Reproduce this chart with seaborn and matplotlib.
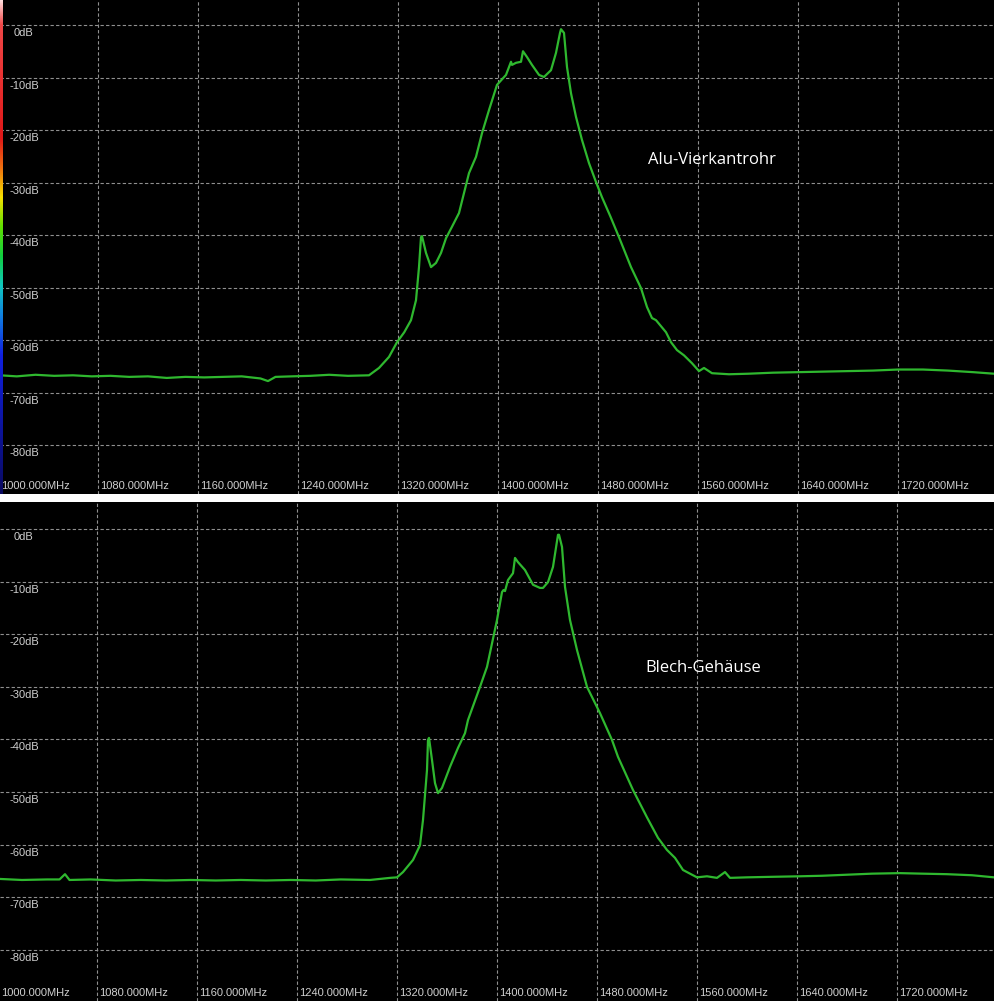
import numpy as np
import pandas as pd
import matplotlib
matplotlib.use("Agg")
import matplotlib.pyplot as plt
from matplotlib.colors import LinearSegmentedColormap
import seaborn as sns

# ---------------- data ----------------
freq_ticks = [1000, 1080, 1160, 1240, 1320, 1400, 1480, 1560, 1640, 1720]
freq_labels = [f"{f}.000MHz" for f in freq_ticks]
db_ticks = [0, -10, -20, -30, -40, -50, -60, -70, -80]
db_labels = [f"{d}dB" for d in db_ticks]

top_freq = [1001.6, 1015, 1030, 1045, 1060, 1075, 1090, 1105, 1120, 1135, 1150,
            1165, 1180, 1195, 1210, 1216, 1222, 1235, 1250, 1265, 1280, 1296.8,
            1304.8, 1312.8, 1319.2, 1325, 1330.4, 1334.4, 1336.8, 1338.4, 1339.2,
            1342.4, 1346.4, 1350.4, 1354.4, 1358.4, 1363, 1368.8, 1376.8, 1382.4,
            1387.2, 1392.8, 1399.2, 1406.4, 1410.4, 1411.2, 1414.4, 1418.4, 1420,
            1423.2, 1427.2, 1432.8, 1436.8, 1442.4, 1446.4, 1449.6, 1450.4, 1452.8,
            1455.2, 1458.4, 1462.4, 1467.2, 1472.8, 1478.4, 1483.2, 1490, 1496.8,
            1506.4, 1514.4, 1519.2, 1523.2, 1526.4, 1534.4, 1538.4, 1543.2, 1548.8,
            1555.2, 1560.8, 1564.8, 1571.2, 1584.8, 1600, 1620, 1640, 1660, 1680,
            1700, 1720, 1740, 1760, 1780, 1797]
top_db = [-66.7, -66.9, -66.6, -66.8, -66.7, -66.9, -66.8, -67.0, -66.9, -67.2, -67.0,
          -67.1, -67.0, -66.9, -67.3, -67.8, -67.0, -66.9, -66.8, -66.6, -66.8, -66.7,
          -65.3, -63.2, -60.4, -58.5, -56.2, -52.4, -46.1, -40.4, -40.2,
          -43.4, -46.1, -45.3, -43.4, -40.6, -38.5, -35.8, -28.2, -25.1,
          -20.6, -16.2, -11.4, -9.5, -7.0, -7.6, -7.2, -7.0, -5.0,
          -6.1, -7.6, -9.5, -9.9, -8.6, -5.3, -1.5, -0.8, -1.5,
          -8.0, -13.0, -17.5, -21.9, -26.3, -29.9, -32.8, -36.5, -40.4,
          -46.1, -50.1, -53.7, -55.8, -56.2, -58.5, -60.4, -61.9, -62.9,
          -64.4, -65.9, -65.3, -66.3, -66.5, -66.4, -66.2, -66.1, -66.0, -65.9,
          -65.8, -65.6, -65.6, -65.8, -66.1, -66.4]

bot_freq = [1002, 1020, 1040, 1050, 1054.4, 1058, 1075, 1095, 1115, 1135, 1155,
            1175, 1195, 1215, 1235, 1255, 1275, 1298.4, 1314.4, 1320, 1324.8,
            1332.8, 1338.4, 1340.8, 1344, 1344.8, 1345.6, 1348, 1350.4, 1352.8,
            1356, 1362.4, 1368.8, 1374.4, 1376.8, 1386.4, 1392, 1400, 1404, 1405.2,
            1406.4, 1408.8, 1412.8, 1414.4, 1416.8, 1422.4, 1428.8, 1434.4, 1436.8,
            1440.8, 1444.8, 1448.8, 1449.6, 1452, 1454.4, 1458.4, 1464, 1472, 1482.4,
            1492, 1496.8, 1508.8, 1520, 1528.8, 1536, 1542.4, 1548.8, 1560, 1568,
            1576, 1582.4, 1586.4, 1600, 1620, 1642.4, 1660, 1680, 1700, 1722.4,
            1740, 1760, 1780, 1797.6]
bot_db = [-66.5, -66.7, -66.6, -66.6, -65.6, -66.7, -66.6, -66.8, -66.7, -66.8, -66.7,
          -66.8, -66.7, -66.8, -66.7, -66.8, -66.6, -66.7, -66.3, -66.2, -65.2,
          -62.9, -60.1, -55.3, -45.8, -40.1, -39.7, -43.9, -48.3, -50.2,
          -49.2, -45.2, -41.6, -38.8, -36.3, -30.0, -26.2, -17.3, -12.0, -11.6,
          -11.8, -9.7, -8.4, -5.5, -6.3, -7.8, -10.6, -11.2, -11.2,
          -10.1, -7.2, -1.1, -1.1, -3.4, -11.0, -17.3, -23.0, -30.0, -35.0,
          -40.1, -43.3, -49.6, -54.8, -58.7, -61.0, -62.5, -64.8, -66.2, -66.0,
          -66.3, -65.2, -66.3, -66.2, -66.1, -66.0, -65.9, -65.7, -65.5, -65.4,
          -65.5, -65.6, -65.8, -66.2]

panels = [
    dict(freq=top_freq, db=top_db, title="Alu-Vierkantrohr", tx=1520, ty=-25.7,
         ylim=(-89.3, 4.76), xlim=(1001.6, 1796.8), strip=True),
    dict(freq=bot_freq, db=bot_db, title="Blech-Gehäuse", tx=1518.4, ty=-26.4,
         ylim=(-89.7, 5.13), xlim=(1002.4, 1797.6), strip=False),
]

# ---------------- style ----------------
sns.set_style("dark")
plt.rcParams["font.family"] = ["Liberation Sans", "DejaVu Sans"]

W, H = 994, 1001
fig = plt.figure(figsize=(W / 100, H / 100), dpi=100, facecolor="white")

rects = [
    [0, (H - 494) / H, 1, 494 / H],
    [0, 0, 1, 499 / H],
]

line_color = "#2fb82f"
grid_color = "#8f8f8f"
label_color = "#cfcfcf"

strip_cmap = LinearSegmentedColormap.from_list(
    "spec",
    [(0.00, "#ffe0e0"), (0.05, "#f04848"), (0.28, "#e01818"), (0.34, "#f07010"),
     (0.40, "#f8e000"), (0.46, "#60e000"), (0.52, "#10d040"), (0.58, "#10c8c0"),
     (0.64, "#1080e0"), (0.72, "#1020e0"), (1.00, "#0a0a60")])

for rect, p in zip(rects, panels):
    ax = fig.add_axes(rect)
    ax.set_facecolor("black")
    df = pd.DataFrame({"MHz": p["freq"], "dB": p["db"]})
    sns.lineplot(data=df, x="MHz", y="dB", ax=ax, color=line_color,
                 linewidth=1.6, estimator=None, sort=False)
    ax.set_xlim(*p["xlim"])
    ax.set_ylim(*p["ylim"])
    ax.set_xticks(freq_ticks[1:])
    ax.set_yticks(db_ticks)
    ax.grid(True, color=grid_color, linestyle=(0, (3, 2)), linewidth=0.8)
    ax.tick_params(left=False, bottom=False, labelleft=False, labelbottom=False)
    ax.set_xlabel("")
    ax.set_ylabel("")
    for s in ax.spines.values():
        s.set_visible(False)

    trans_y = ax.get_yaxis_transform()  # x axes-fraction, y data
    for d, lab in zip(db_ticks, db_labels):
        ax.annotate(lab, xy=(24 / W, d), xycoords=trans_y, xytext=(0, -3),
                    textcoords="offset pixels", ha="center", va="top",
                    fontsize=8, color=label_color)
    trans_x = ax.get_xaxis_transform()  # x data, y axes-fraction
    for f, lab in zip(freq_ticks, freq_labels):
        ax.annotate(lab, xy=(max(f, p["xlim"][0]), 0), xycoords=trans_x,
                    xytext=(2 if f > 1000 else 1, 8), textcoords="offset pixels",
                    ha="left", va="center", fontsize=8, color=label_color)

    ax.text(p["tx"], p["ty"], p["title"], color="white", fontsize=12,
            family=["Open Sans", "DejaVu Sans"], ha="left", va="center")

    if p["strip"]:
        sax = fig.add_axes([0, rect[1], 3 / W, rect[3]])
        grad = np.linspace(0, 1, 256).reshape(-1, 1)
        sax.imshow(grad, aspect="auto", cmap=strip_cmap, extent=(0, 1, 0, 1),
                   origin="upper")
        sax.set_axis_off()

fig.savefig("out.png", dpi=100, facecolor="white")
